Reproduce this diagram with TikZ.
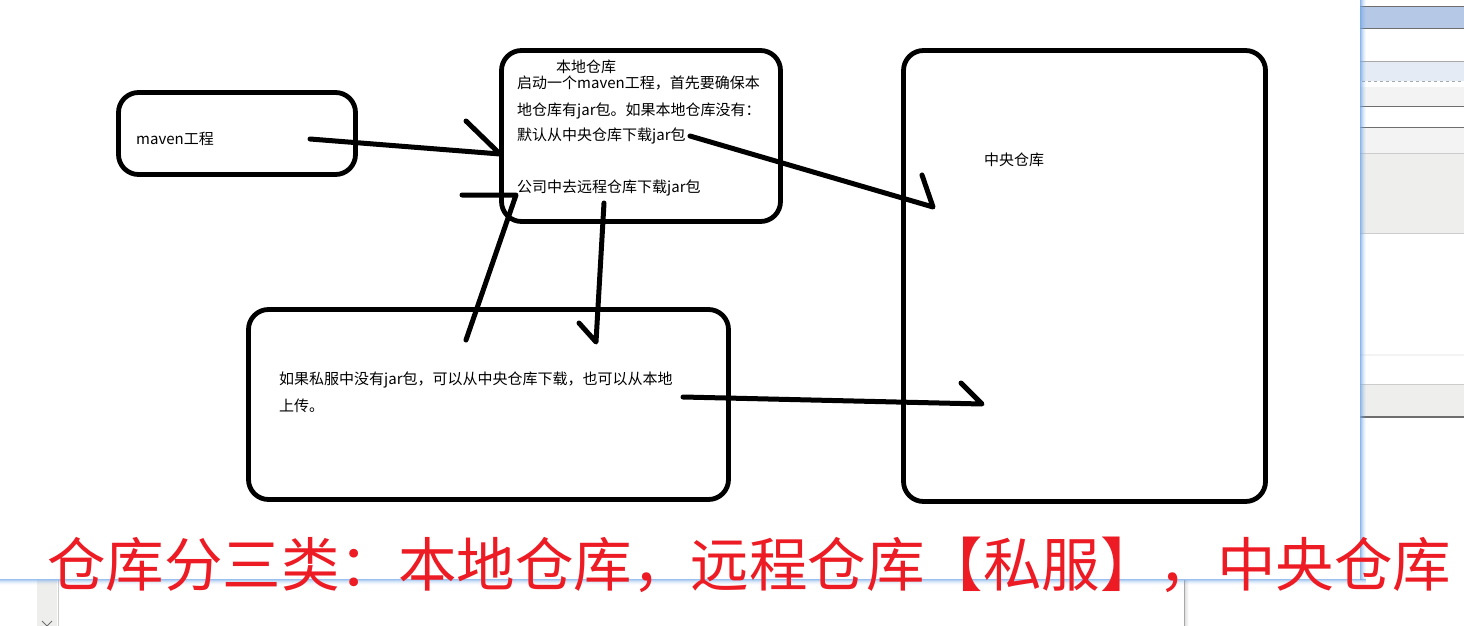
\documentclass[tikz,border=0pt]{standalone}
\usepackage{fontspec}
\newfontfamily\cjk{Noto Sans CJK SC}
\usepackage{tikz}
\usetikzlibrary{positioning}
\definecolor{paintRed}{HTML}{ED1C24}
\definecolor{uiBlue}{HTML}{6FA6E8}
\definecolor{uiHead}{HTML}{B5C9E7}
\definecolor{uiPale}{HTML}{E4EBF5}
\definecolor{uiGrey}{HTML}{F3F3F3}
\definecolor{uiPanel}{HTML}{EEEEEC}
\definecolor{uiLine}{HTML}{6E6E6E}
\definecolor{uiMid}{HTML}{A8A8A8}
\definecolor{uiSoft}{HTML}{CCCCCC}

\begin{document}
\begin{tikzpicture}[x=1pt, y=-1pt, font=\cjk\fontsize{15}{26}\selectfont,
  box/.style={draw, line width=4.8pt, rounded corners=20pt, inner sep=0pt},
  pen/.style={line width=5pt, line cap=round, line join=round},
  txt/.style={anchor=base west, inner sep=0pt}]
\useasboundingbox[fill=white] (0,0) rectangle (1464,626);
% ---------- window chrome on the right ----------
\fill[uiHead] (1360,6) rectangle (1464,28.5);
\draw[uiLine] (1360,6) -- (1464,6);
\draw[uiLine] (1360,28.5) -- (1464,28.5);
\fill[uiPale] (1360,61.5) rectangle (1464,81);
\draw[uiMid] (1360,61.5) -- (1464,61.5);
\draw[uiMid, dash pattern=on 3pt off 3pt] (1362,81) -- (1464,81);
\fill[uiGrey] (1360,87) rectangle (1464,106.5);
\draw[uiLine] (1360,106.5) -- (1464,106.5);
\fill[uiGrey] (1360,127.5) rectangle (1464,153.5);
\draw[uiLine] (1360,127.5) -- (1464,127.5);
\fill[uiPanel] (1360,153.5) rectangle (1464,233.5);
\draw[uiSoft] (1360,153.5) -- (1464,153.5);
\draw[uiSoft] (1360,233.5) -- (1464,233.5);
\fill[uiGrey] (1360,354) rectangle (1464,356);
\fill[uiPanel] (1360,384.5) rectangle (1464,416);
\draw[uiSoft] (1360,384.5) -- (1464,384.5);
\draw[uiLine, line width=2pt] (1360,417) -- (1464,417);
% ---------- window below ----------
\fill[uiPanel] (37,580) rectangle (57,626);
\draw[uiSoft] (58,580) -- (58,626);
\draw[uiLine, line width=1pt] (42,621) -- (47,626) -- (52,621);
\draw[uiMid] (1184,580) -- (1184,626);
\foreach \i/\o in {1/0.12,2/0.08,3/0.05,4/0.02}
  \fill[black, opacity=\o] (1184+\i,580) rectangle ++(1,46);
% blue borders of the canvas
\foreach \i/\o in {0/0.8,1/0.6,2/0.42,3/0.28,4/0.16,5/0.07}
  \fill[uiBlue, opacity=\o] (1360+\i,0) rectangle ++(1,580);
\foreach \i/\o in {0/0.7,1/0.5,2/0.32,3/0.2,4/0.1,5/0.04}
  \fill[uiBlue, opacity=\o] (0,579+\i) rectangle ++(1366,1);

% ---------- boxes ----------
\node[box, minimum width=237pt, minimum height=82pt] (mvn) at (237,133.5) {};
\node[box, minimum width=279pt, minimum height=171pt] (loc) at (641,136) {};
\node[box, minimum width=480pt, minimum height=190pt] (remote) at (488.5,404.5) {};
\node[box, minimum width=362pt, minimum height=451pt] (central) at (1084.5,276) {};

% ---------- texts ----------
\node[txt] (mvnT) at (136,144.5) {maven工程};
\node[anchor=base, inner sep=0pt] (locT) at (586,73) {本地仓库};
\node[txt] (locL1) at (517,88.5) {启动一个maven工程，首先要确保本};
\node[txt] (locL2) at (517,115) {地仓库有jar包。如果本地仓库没有：};
\node[txt] (locL3) at (517,140.5) {默认从中央仓库下载jar包};
\node[txt] (locL4) at (517,192) {公司中去远程仓库下载jar包};
\node[txt] (centralT) at (984,165.5) {中央仓库};
\node[txt] (remoteL1) at (279,384.5) {如果私服中没有jar包，可以从中央仓库下载，也可以从本地};
\node[txt] (remoteL2) at (279,411.5) {上传。};

% ---------- hand drawn arrows ----------
\coordinate (mvnOut) at (310,139);
\coordinate (locIn) at (500,154);
\coordinate (locInB) at (466,121);
\coordinate (locOut) at (690,136);
\coordinate (centralIn) at (933,207);
\coordinate (centralInB) at (922,175);
\coordinate (remoteUp) at (466,340);
\coordinate (locUp) at (516,195);
\coordinate (locUpB) at (462,195);
\coordinate (locDown) at (604,203);
\coordinate (remoteIn) at (596,342);
\coordinate (remoteInB) at (579,323);
\coordinate (remoteOut) at (683,397);
\coordinate (centralLow) at (982,404);
\coordinate (centralLowB) at (961,383);
\draw[pen] (mvnOut) -- (locIn) -- (locInB);
\draw[pen] (locOut) -- (centralIn) -- (centralInB);
\draw[pen] (remoteUp) -- (locUp) -- (locUpB);
\draw[pen] (locDown) -- (remoteIn) -- (remoteInB);
\draw[pen] (remoteOut) -- (centralLow) -- (centralLowB);

% ---------- caption ----------
\node[anchor=base, inner sep=0pt, text=paintRed, font=\cjk\fontsize{58.5}{60}\selectfont]
  (caption) at (749,586) {仓库分三类：本地仓库，远程仓库【私服】，中央仓库};
\end{tikzpicture}
\end{document}
